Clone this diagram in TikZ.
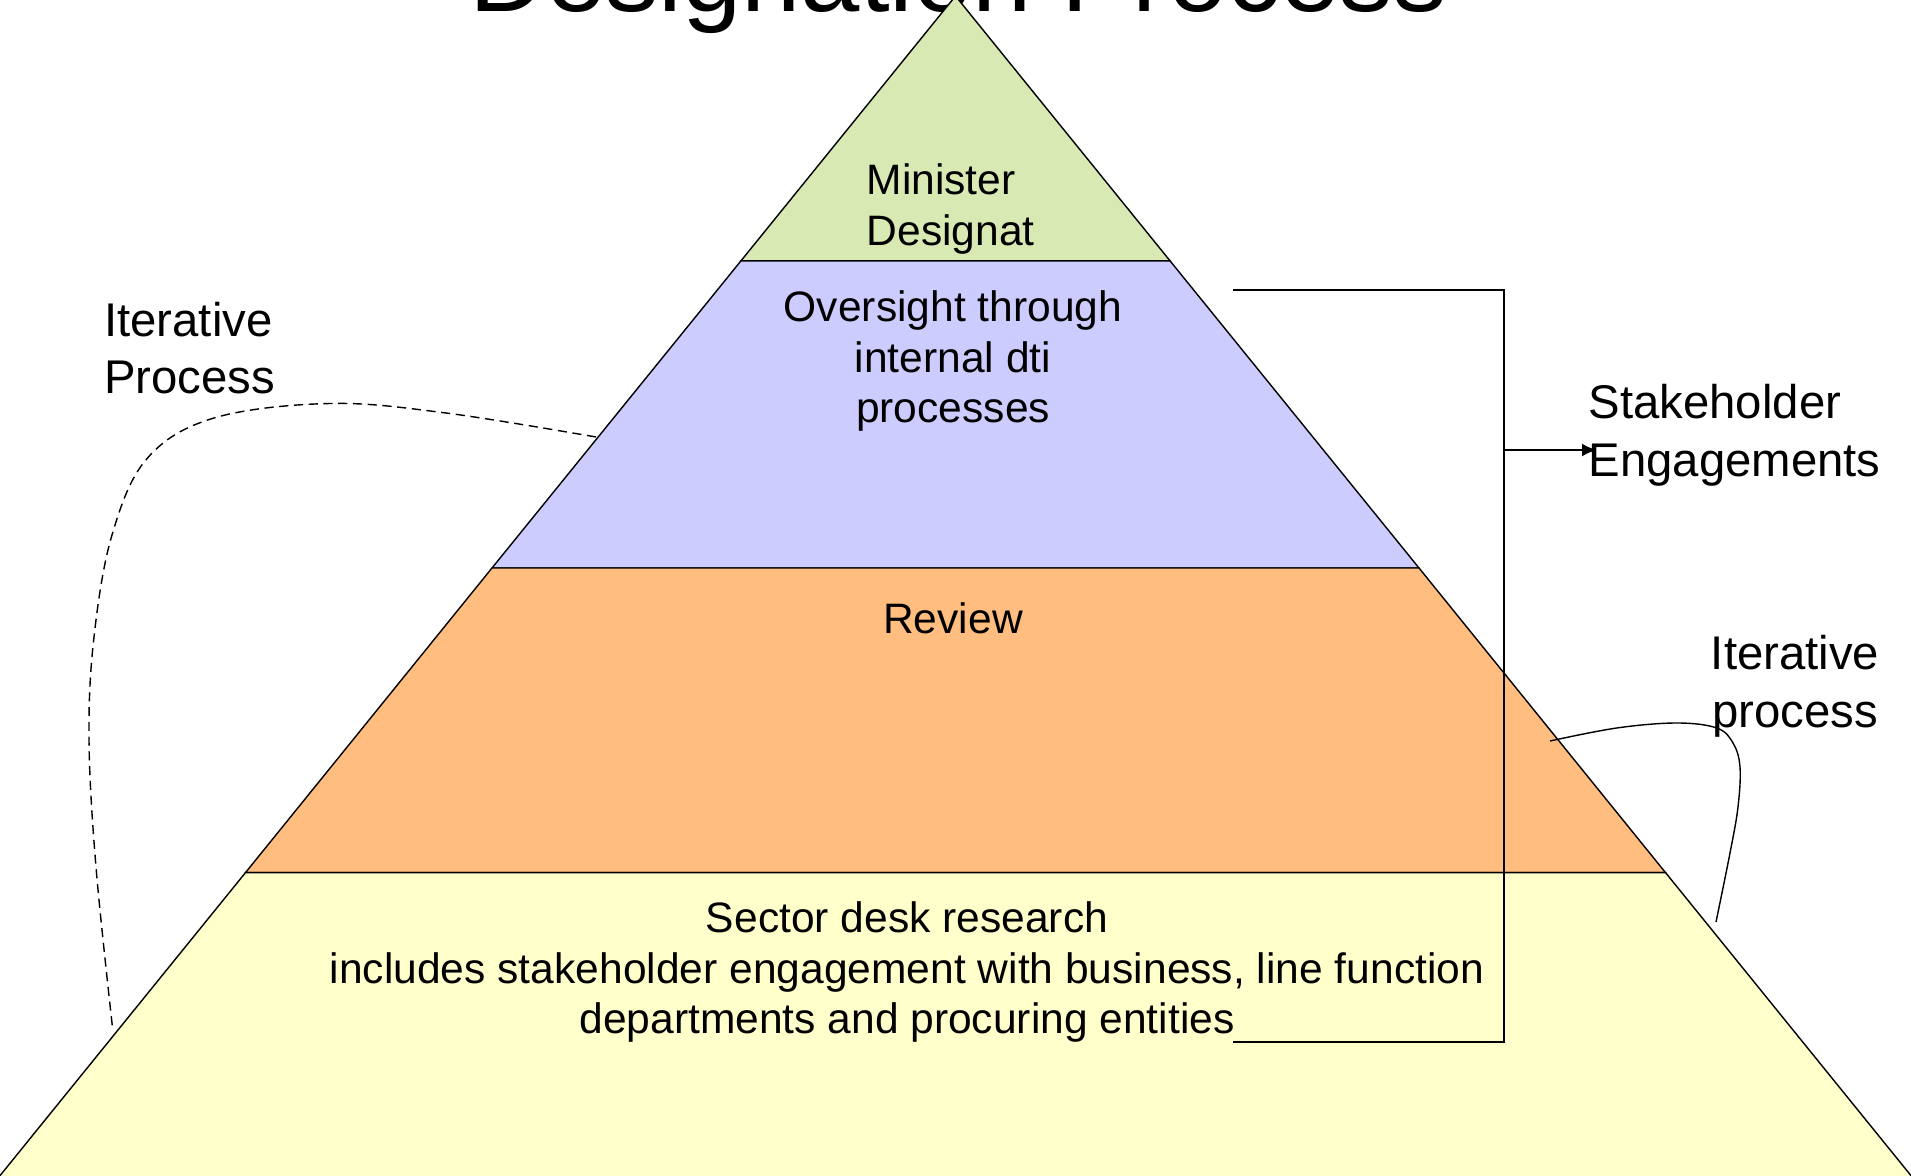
\documentclass[tikz,border=0pt]{standalone}
\usepackage{fontspec}
\setmainfont{Liberation Sans}
\usetikzlibrary{arrows.meta}
\definecolor{tierA}{RGB}{216,233,180}
\definecolor{tierB}{RGB}{204,204,255}
\definecolor{tierC}{RGB}{255,190,128}
\definecolor{tierD}{RGB}{255,255,204}
\begin{document}
\begin{tikzpicture}[x=0.01cm,y=-0.01cm,
  band/.style={draw=black,line width=0.4pt,line join=miter},
  bodytext/.style={font=\fontsize{12.1}{14.5}\selectfont,inner sep=0pt},
  sidetext/.style={font=\fontsize{13.45}{16.4}\selectfont,inner sep=0pt},
  wire/.style={line width=0.7pt},
  iter/.style={line width=0.4pt}]

\useasboundingbox (0,0) rectangle (1911,1176);
\clip (0,0) rectangle (1911,1176);
\fill[white] (0,0) rectangle (1911,1176);

\node[font=\fontsize{30.3}{36}\selectfont, anchor=base, inner sep=0pt] (title) at (958,12) {Designation Process};

% pyramid geometry
\coordinate (apex) at (955.5,-4);
\coordinate (b1l) at (741,260.8);
\coordinate (b1r) at (1170,260.8);
\coordinate (b2l) at (492,568);
\coordinate (b2r) at (1419,568);
\coordinate (b3l) at (245.5,872.6);
\coordinate (b3r) at (1665.5,872.6);
\coordinate (b4l) at (-10,1188);
\coordinate (b4r) at (1921,1188);

\filldraw[band,fill=tierA] (apex) -- (b1r) -- (b1l) -- cycle;
\filldraw[band,fill=tierB] (b1l) -- (b1r) -- (b2r) -- (b2l) -- cycle;
\filldraw[band,fill=tierC] (b2l) -- (b2r) -- (b3r) -- (b3l) -- cycle;
\filldraw[band,fill=tierD] (b3l) -- (b3r) -- (b4r) -- (b4l) -- cycle;

% tier texts
\node[bodytext,anchor=west,align=left] (minister) at (866,209) {Minister\\Designat};
\node[bodytext,align=center] (oversight) at (953,361) {Oversight through\\internal dti\\processes};
\node[bodytext] (review) at (953,618) {Review};
\node[bodytext,align=center] (sector) at (907,972) {Sector desk research\\includes stakeholder engagement with business, line function\\departments and procuring entities};

% side labels
\node[sidetext,anchor=west,align=left] (iterL) at (103.6,348) {Iterative\\Process};
\node[sidetext,anchor=west,align=left] (stake) at (1588,435.5) {Stakeholder\\Engagements};
\node[sidetext,align=center] (iterR) at (1795,686) {Iterative\\process};

% bracket with arrow
\coordinate (brTop) at (1233,290);
\coordinate (brC1) at (1504,290);
\coordinate (brC2) at (1504,1042);
\coordinate (brBot) at (1233,1042);
\coordinate (brMid) at (1504,450);
\coordinate (arrEnd) at (1597,450);
\draw[wire] (brTop) -- (brC1) -- (brC2) -- (brBot);
\draw[wire,-{Latex[length=1.5mm,width=1.3mm]}] (brMid) -- (arrEnd);

% left dashed iterative curve
\coordinate (lStart) at (596,437);
\coordinate (lEnd) at (112.5,1027.5);
\draw[iter,dash pattern=on 2.6pt off 1.6pt] plot[smooth,tension=0.6] coordinates {(lStart) (446,413) (330,403.5) (214,418) (147,458.6) (112,535) (94,637) (89,739) (96,867) (lEnd)};

% right solid iterative curve
\coordinate (rStart) at (1550,741);
\coordinate (rEnd) at (1716,922);
\draw[iter] plot[smooth,tension=0.6] coordinates {(rStart) (1616.7,728) (1676.7,723) (1716.7,728) (1733,743) (1740,767) (1738,807) (1730,853) (rEnd)};

\end{tikzpicture}
\end{document}
